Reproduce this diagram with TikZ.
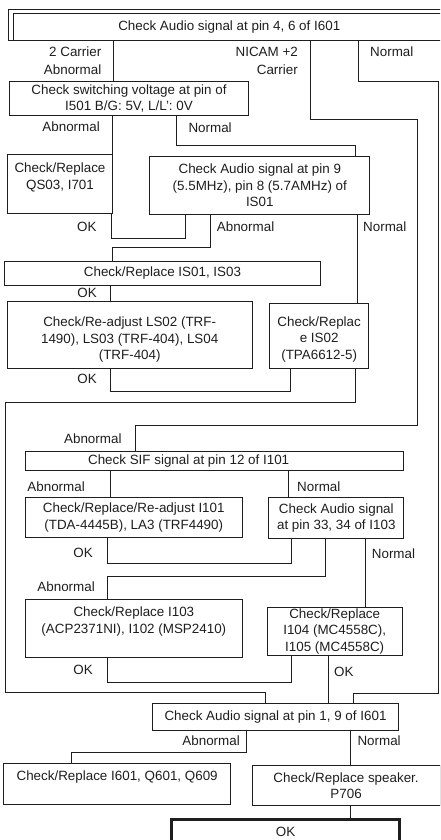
\documentclass[tikz,border=0pt]{standalone}
\usepackage{fontspec}
\setmainfont{Liberation Sans}
\definecolor{ink}{HTML}{1E1E1E}
\tikzset{
  box/.style   = {rectangle, draw=ink, line width=1pt, text=ink, align=center, anchor=north west,
                  font=\fontsize{13.4}{16.5}\selectfont, inner sep=0pt},
  okbox/.style = {box, line width=3pt},
  wire/.style  = {draw=ink, line width=1pt},
  lbl/.style   = {text=ink, font=\fontsize{13.4}{16.5}\selectfont, inner sep=0pt},
}
\begin{document}
\begin{tikzpicture}[x=1pt,y=-1pt]
\useasboundingbox (0,0) rectangle (440,840);
\clip (0,0) rectangle (440,840);
% boxes
\node[box, minimum width=432.5pt, minimum height=27pt] (top) at (12.5,13) {Check Audio signal at pin 4, 6 of I601};
\draw[wire] (top.south west) -- ++(-4.5,0) |- ([yshift=3.5pt]top.north east);
\node[box, minimum width=239pt, minimum height=34pt] (sw) at (9,81) {Check switching voltage at pin of\\I501 B/G: 5V, L/L': 0V};
\node[box, minimum width=104.4pt, minimum height=59.3pt] (qs) at (7.3,154) {Check/Replace\\QS03, I701\\~};
\node[box, minimum width=220pt, minimum height=58pt] (p9) at (149.3,156) {Check Audio signal at pin 9\\(5.5MHz), pin 8 (5.7AMHz) of\\IS01};
\node[box, minimum width=316pt, minimum height=24.3pt] (is01) at (4,260.7) {Check/Replace IS01, IS03};
\node[box, minimum width=245pt, minimum height=67pt] (ls02) at (6.7,300.5) {\rule{0pt}{20pt}Check/Re-adjust LS02 (TRF-\\1490), LS03 (TRF-404), LS04\\(TRF-404)};
\node[box, minimum width=98.7pt, minimum height=64.8pt] (is02) at (269.3,302.7) {\rule{0pt}{17pt}Check/Replac\\e IS02\\(TPA6612-5)};
\node[box, minimum width=378.3pt, minimum height=19pt] (sif) at (25,451) {Check SIF signal at pin 12 of I101\hspace*{52pt}};
\node[box, minimum width=217.5pt, minimum height=40pt] (i101) at (24.5,497) {Check/Replace/Re-adjust I101\\(TDA-4445B), LA3 (TRF4490)};
\node[box, minimum width=135pt, minimum height=41.3pt] (p33) at (268.3,497) {Check Audio signal\\at pin 33, 34 of I103};
\node[box, minimum width=216.7pt, minimum height=57.4pt] (i103) at (25,599.3) {Check/Replace I103\\(ACP2371NI), I102 (MSP2410)\\~};
\node[box, minimum width=135pt, minimum height=48pt] (i104) at (266.7,607) {Check/Replace\\I104 (MC4558C),\\I105 (MC4558C)};
\node[box, minimum width=246.6pt, minimum height=26.7pt] (fin) at (151.7,703.3) {Check Audio signal at pin 1, 9 of I601};
\node[box, minimum width=226.7pt, minimum height=40.7pt] (i601) at (3.3,763.3) {Check/Replace I601, Q601, Q609\\~};
\node[box, minimum width=187.8pt, minimum height=40pt] (spk) at (251.7,765) {Check/Replace speaker.\\P706};
\node[okbox, minimum width=228.3pt, minimum height=25pt] (ok) at (170,818.3) {OK};
% edges
\draw[wire] (top.south -| 113,0) -- (sw.north -| 113,0);
\draw[wire] (top.south -| 310,0) |- (417,120) |- (135,425) -- (sif.north -| 135,0);
\draw[wire] (top.south -| 358,0) |- (438.5,82) |- (353,693) -- (fin.north -| 353,0);
\draw[wire] (sw.south -| 112,0) -- (qs.north -| 112,0);
\draw[wire] (sw.south -| 176,0) |- (355,145) -- (p9.north -| 355,0);
\draw[wire] (qs.south -| 111.7,0) |- (185,238.3) -- (p9.south -| 185,0);
\draw[wire] (p9.south -| 210,0) |- (112.3,247.3) -- (is01.north -| 112.3,0);
\draw[wire] (p9.south -| 357,0) -- (is02.north -| 357,0);
\draw[wire] (is01.south -| 110,0) -- (ls02.north -| 110,0);
\draw[wire] (ls02.south -| 110,0) |- (290,391) -- (is02.south -| 290,0);
\draw[wire] (is02.south -| 355,0) |- (5,402.5) |- (265,692) -- (fin.north -| 265,0);
\draw[wire] (sif.south -| 110,0) -- (i101.north -| 110,0);
\draw[wire] (sif.south -| 288.3,0) -- (p33.north -| 288.3,0);
\draw[wire] (i101.south -| 107.3,0) |- (291.7,563.3) -- (p33.south -| 291.7,0);
\draw[wire] (p33.south -| 325,0) |- (107.3,576) -- (i103.north -| 107.3,0);
\draw[wire] (p33.south -| 365,0) -- (i104.north -| 365,0);
\draw[wire] (i103.south -| 107,0) |- (291.7,682.5) -- (i104.south -| 291.7,0);
\draw[wire] (i104.south -| 328,0) -- (fin.north -| 328,0);
\draw[wire] (fin.south -| 246.7,0) |- (71.7,752.7) -- (i601.north -| 71.7,0);
\draw[wire] (fin.south -| 350.7,0) -- (spk.north -| 350.7,0);
\draw[wire] (spk.south -| 350,0) -- (ok.north -| 350,0);
% labels
\node[lbl, align=right, anchor=east] (lcar) at (101.5,60.7) {2 Carrier\\[1.5pt]Abnormal};
\node[lbl, align=right, anchor=east] (lnic) at (298,60.7) {NICAM +2\\[1.5pt]Carrier};
\node[lbl, anchor=west] (ltopn) at (370,51.7) {Normal};
\node[lbl, anchor=east] (lswa) at (100,126.7) {Abnormal};
\node[lbl, anchor=west] (lswn) at (188.3,128) {Normal};
\node[lbl, anchor=east] (lqsok) at (96.7,226.7) {OK};
\node[lbl, anchor=west] (lp9a) at (216.7,226.7) {Abnormal};
\node[lbl, anchor=west] (lp9n) at (363,226.7) {Normal};
\node[lbl, anchor=east] (lisok) at (97,293.3) {OK};
\node[lbl, anchor=east] (llsok) at (97,379) {OK};
\node[lbl, anchor=east] (lsifin) at (121.7,438.3) {Abnormal};
\node[lbl, anchor=east] (lsifa) at (85,486.7) {Abnormal};
\node[lbl, anchor=west] (lsifn) at (297,486.7) {Normal};
\node[lbl, anchor=east] (li101ok) at (93,553.3) {OK};
\node[lbl, anchor=west] (lp33n) at (371.7,553.3) {Normal};
\node[lbl, anchor=east] (lp33a) at (95,586.7) {Abnormal};
\node[lbl, anchor=east] (li103ok) at (93,670) {OK};
\node[lbl, anchor=west] (li104ok) at (334,671.7) {OK};
\node[lbl, anchor=east] (lfina) at (240,740.7) {Abnormal};
\node[lbl, anchor=west] (lfinn) at (357.3,740.7) {Normal};
\end{tikzpicture}
\end{document}
